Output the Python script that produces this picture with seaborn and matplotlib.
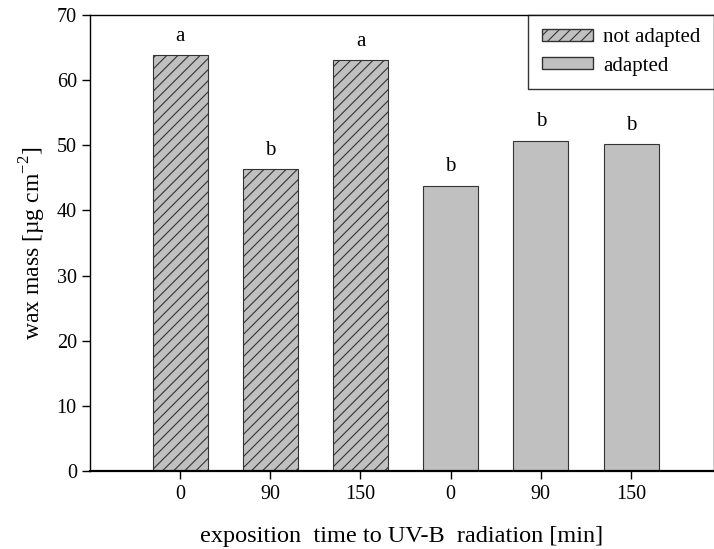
import numpy as np
import pandas as pd
import matplotlib
matplotlib.use("Agg")
import matplotlib.pyplot as plt
import seaborn as sns
from matplotlib.patches import Patch

groups = ["not adapted", "not adapted", "not adapted", "adapted", "adapted", "adapted"]
times = ["0", "90", "150", "0", "90", "150"]
wax_mass = [63.8, 46.4, 63.0, 43.8, 50.7, 50.2]
letters = ["a", "b", "a", "b", "b", "b"]

BAR_COLOR = "#c0c0c0"
TICK_FS = 14.5
LABEL_FS = 17.5

sns.set_style("ticks")
plt.rcParams['font.family'] = ['Liberation Serif', 'DejaVu Serif']
plt.rcParams['mathtext.fontset'] = 'custom'
plt.rcParams['mathtext.rm'] = 'Liberation Serif'
plt.rcParams['text.color'] = 'black'
plt.rcParams['axes.labelcolor'] = 'black'
plt.rcParams['hatch.color'] = '#404040'
plt.rcParams['hatch.linewidth'] = 0.8

df = pd.DataFrame({
    "slot": [f"{g} {t}" for g, t in zip(groups, times)],
    "group": groups,
    "wax": wax_mass,
})

fig = plt.figure(figsize=(7.14, 5.49), dpi=100)
ax = fig.add_axes([0.126, 0.142, 0.874, 0.831])

sns.barplot(data=df, x="slot", y="wax", hue="group", dodge=False,
            palette={"not adapted": BAR_COLOR, "adapted": BAR_COLOR},
            width=0.61, edgecolor="#333333", linewidth=0.8,
            legend=False, ax=ax)

for bar in ax.patches:
    if bar.get_height() == 0:
        continue
    idx = int(round(bar.get_x() + bar.get_width() / 2))
    if groups[idx] == "not adapted":
        bar.set_hatch("///")

for i, (v, s) in enumerate(zip(wax_mass, letters)):
    ax.text(i, v + 1.4, s, ha="center", va="bottom", fontsize=15)

ax.set_xlim(-1, 5.92)
ax.set_ylim(0, 70)
ax.set_yticks(np.arange(0, 71, 10))
ax.set_xticks(range(len(times)))
ax.set_xticklabels(times)
ax.tick_params(axis="both", labelsize=TICK_FS, direction="out", length=6, width=1,
               colors="black", labelcolor="black")
ax.tick_params(axis="x", pad=4)

ax.set_xlabel("exposition  time to UV-B  radiation [min]", fontsize=LABEL_FS, labelpad=16)
ax.set_ylabel(r"wax mass [µg cm$^{\mathrm{-2}}$]", fontsize=17, labelpad=6)

for side in ["top", "right", "left"]:
    ax.spines[side].set_visible(True)
    ax.spines[side].set_linewidth(1)
    ax.spines[side].set_color("black")
ax.spines["bottom"].set_linewidth(1.6)
ax.spines["bottom"].set_color("black")

handles = [Patch(facecolor=BAR_COLOR, edgecolor="#333333", hatch="///", label="not adapted"),
           Patch(facecolor=BAR_COLOR, edgecolor="#333333", label="adapted")]
leg = ax.legend(handles=handles, loc="upper right", fontsize=15, frameon=True,
                fancybox=False, borderaxespad=0, borderpad=0.65, handlelength=2.45,
                handleheight=0.5, labelspacing=0.45, handletextpad=0.5)
leg.get_frame().set_edgecolor("black")
leg.get_frame().set_linewidth(1)
for t in leg.get_texts():
    t.set_color("black")

fig.savefig("out.png", dpi=100)
